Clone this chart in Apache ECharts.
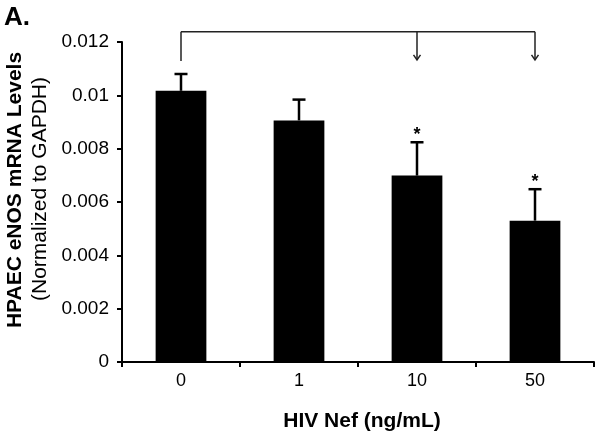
<!DOCTYPE html>
<html>
<head>
<meta charset="utf-8">
<script src="https://cdn.jsdelivr.net/npm/echarts@6/dist/echarts.min.js"></script>
<style>
  html, body { margin: 0; padding: 0; background: #fff; }
  #chart { width: 600px; height: 437px; }
</style>
</head>
<body>
<div id="chart"></div>
<script>
// ---- data ----
var categories = ['0', '1', '10', '50'];
var meanValues = [0.01017, 0.00906, 0.00699, 0.0053];
var errorValues = [0.00063, 0.00078, 0.00125, 0.00118];
var starLabels = ['', '', '*', '*'];
var yTickMin = 0, yTickMax = 0.012, yTickStep = 0.002;
// bracket annotation: from category 0, arrows to categories 2 and 3
var bracketFrom = 0;
var bracketArrows = [2, 3];
var bracketLevel = 0.01238;
var bracketStemEnd = 0.01129;
var bracketArrowTip = 0.01133;

var FONT = '"Liberation Sans", Arial, Helvetica, sans-serif';

var chart = echarts.init(document.getElementById('chart'), null, { renderer: 'canvas' });

var errData = categories.map(function (c, i) {
  return [i, meanValues[i], meanValues[i] + errorValues[i], starLabels[i]];
});

var option = {
  animation: false,
  backgroundColor: '#ffffff',
  grid: { left: 122, right: 6, top: 42, bottom: 75, containLabel: false },
  xAxis: {
    type: 'category',
    data: categories,
    boundaryGap: true,
    axisLine: { show: true, lineStyle: { color: '#000', width: 2 } },
    axisTick: { show: true, inside: false, length: 5, interval: 0, lineStyle: { color: '#000', width: 2 } },
    axisLabel: { margin: 10, fontSize: 18, color: '#000', fontFamily: FONT },
    splitLine: { show: false },
    name: 'HIV Nef (ng/mL)',
    nameLocation: 'middle',
    nameGap: 49,
    nameTextStyle: { fontSize: 21, fontWeight: 'bold', color: '#000', fontFamily: FONT, padding: [0, 0, 0, 8] }
  },
  yAxis: {
    type: 'value',
    min: yTickMin,
    max: yTickMax,
    interval: yTickStep,
    axisLine: { show: true, lineStyle: { color: '#000', width: 2 } },
    axisTick: { show: true, inside: false, length: 5, lineStyle: { color: '#000', width: 2 } },
    axisLabel: { margin: 13, fontSize: 19, color: '#000', fontFamily: FONT },
    splitLine: { show: false }
  },
  graphic: [
    {
      type: 'text', left: 4, top: 5,
      style: { text: 'A.', font: 'bold 26px ' + FONT, fill: '#000' }
    },
    {
      type: 'text', x: 15, y: 190, rotation: Math.PI / 2,
      style: { text: 'HPAEC eNOS mRNA Levels', font: 'bold 21px ' + FONT, fill: '#000', align: 'center', verticalAlign: 'middle' }
    },
    {
      type: 'text', x: 40, y: 189, rotation: Math.PI / 2,
      style: { text: '(Normalized to GAPDH)', font: '21px ' + FONT, fill: '#000', align: 'center', verticalAlign: 'middle' }
    }
  ],
  series: [
    {
      type: 'bar',
      data: meanValues,
      barWidth: '43%',
      itemStyle: { color: '#000' },
      z: 2
    },
    {
      type: 'custom',
      z: 3,
      clip: false,
      data: errData,
      renderItem: function (params, api) {
        var x = api.value(0);
        var base = api.coord([x, api.value(1)]);
        var top = api.coord([x, api.value(2)]);
        var star = api.value(3);
        var half = 6.5;
        var children = [
          { type: 'line', shape: { x1: base[0], y1: base[1], x2: top[0], y2: top[1] }, style: { stroke: '#000', lineWidth: 2.5 } },
          { type: 'line', shape: { x1: top[0] - half, y1: top[1], x2: top[0] + half, y2: top[1] }, style: { stroke: '#000', lineWidth: 2.5 } }
        ];
        if (star) {
          children.push({ type: 'text', x: top[0], y: top[1] - 7, style: { text: star, font: 'bold 18px ' + FONT, fill: '#000', align: 'center', verticalAlign: 'middle' } });
        }
        return { type: 'group', children: children };
      }
    },
    {
      type: 'custom',
      z: 3,
      clip: false,
      data: [[bracketFrom, bracketArrows[bracketArrows.length - 1]]],
      renderItem: function (params, api) {
        var left = api.coord([bracketFrom, bracketLevel]);
        var right = api.coord([bracketArrows[bracketArrows.length - 1], bracketLevel]);
        var stemEnd = api.coord([bracketFrom, bracketStemEnd]);
        var st = { stroke: '#222', lineWidth: 1.5, fill: null };
        var children = [
          { type: 'line', shape: { x1: left[0], y1: left[1], x2: right[0], y2: right[1] }, style: st },
          { type: 'line', shape: { x1: left[0], y1: left[1], x2: stemEnd[0], y2: stemEnd[1] }, style: st }
        ];
        bracketArrows.forEach(function (c) {
          var t = api.coord([c, bracketLevel]);
          var tip = api.coord([c, bracketArrowTip]);
          children.push({ type: 'line', shape: { x1: t[0], y1: t[1], x2: tip[0], y2: tip[1] }, style: st });
          children.push({ type: 'polyline', shape: { points: [[tip[0] - 3.5, tip[1] - 5], [tip[0], tip[1]], [tip[0] + 3.5, tip[1] - 5]] }, style: st });
        });
        return { type: 'group', children: children };
      }
    }
  ]
};

chart.setOption(option);
</script>
</body>
</html>
